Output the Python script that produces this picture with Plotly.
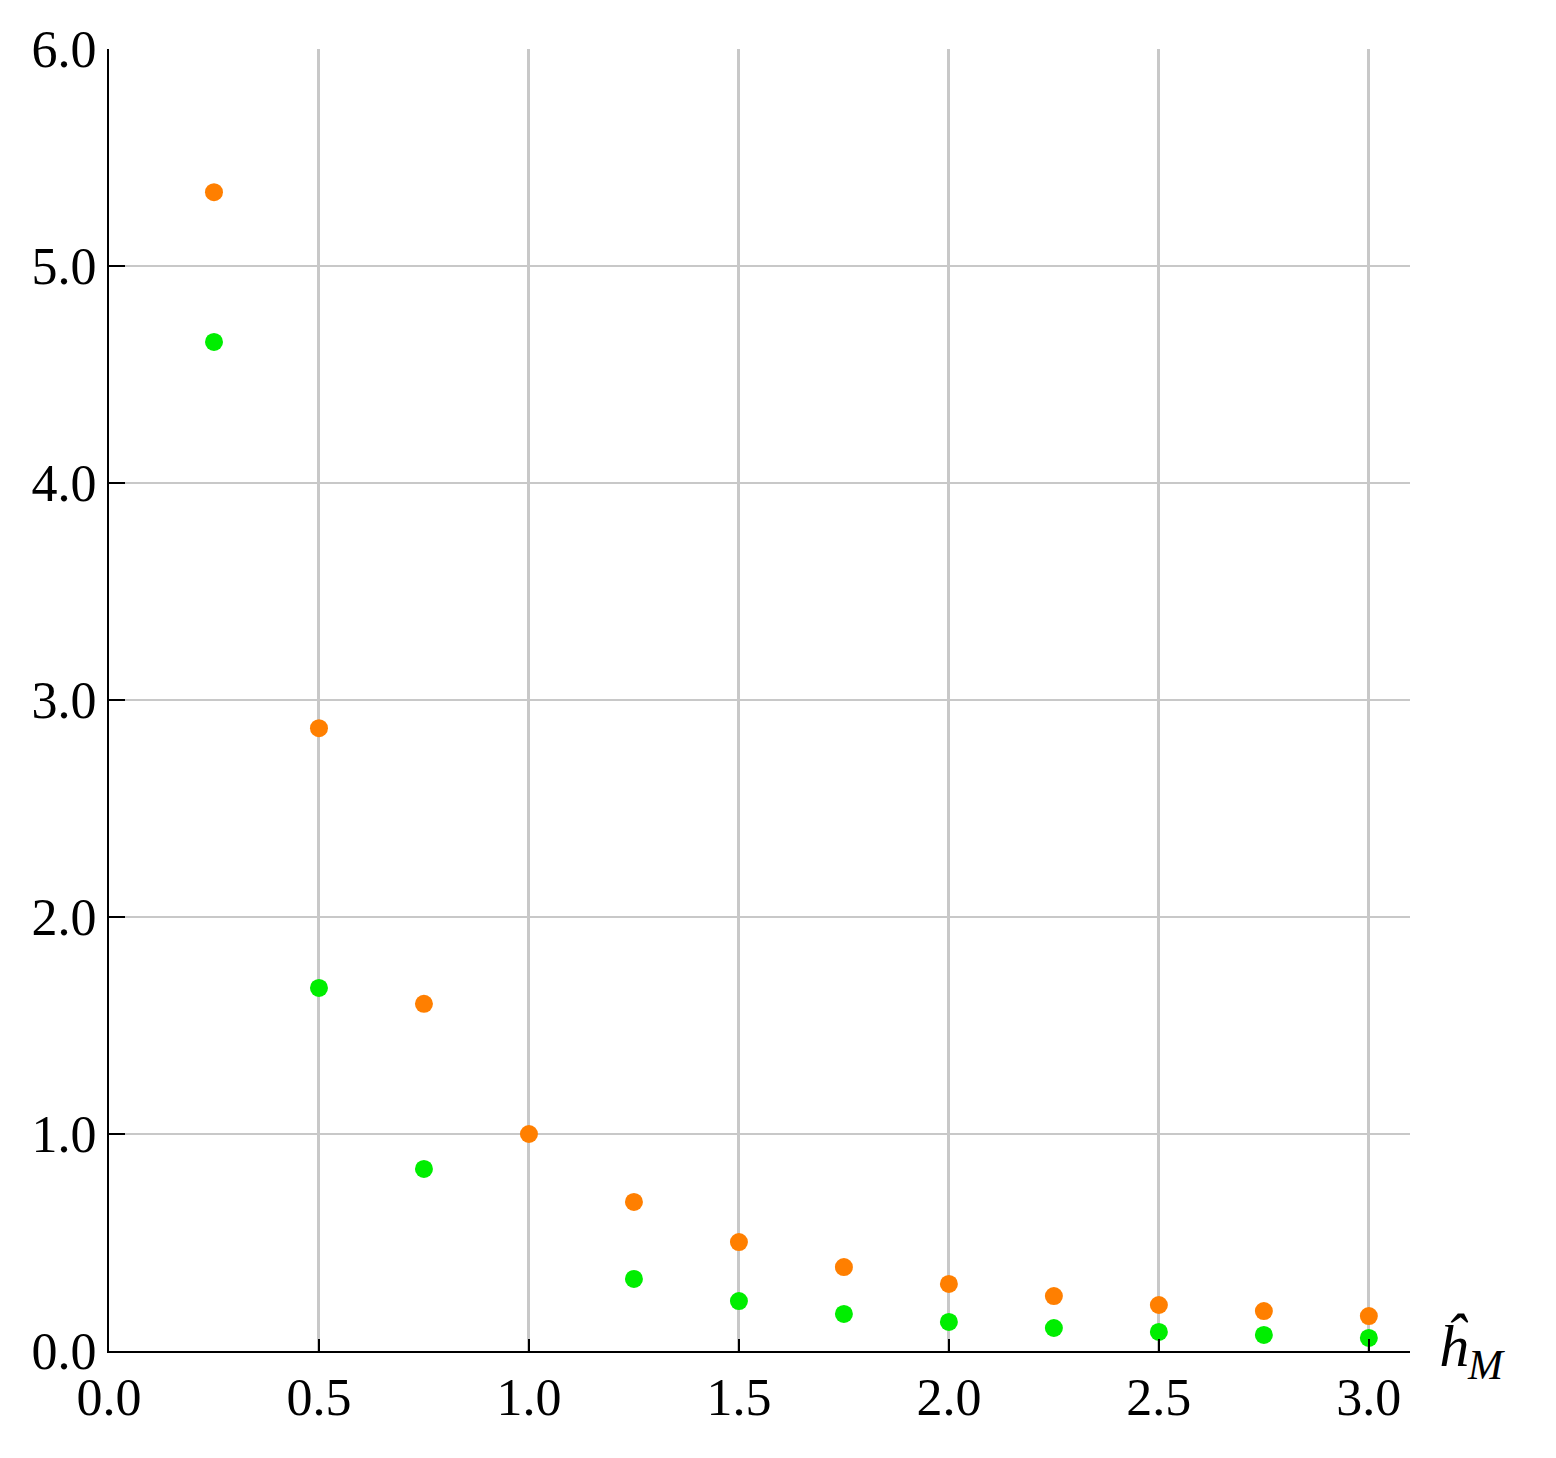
import plotly.graph_objects as go

x_orange = [0.25, 0.5, 0.75, 1.0, 1.25, 1.5, 1.75, 2.0, 2.25, 2.5, 2.75, 3.0]
y_orange = [5.34, 2.87, 1.60, 1.00, 0.687, 0.502, 0.387, 0.309, 0.253, 0.212, 0.184, 0.161]
x_green = [0.25, 0.5, 0.75, 1.25, 1.5, 1.75, 2.0, 2.25, 2.5, 2.75, 3.0]
y_green = [4.65, 1.673, 0.839, 0.332, 0.230, 0.171, 0.134, 0.106, 0.088, 0.074, 0.060]
x_ticks = [0.0, 0.5, 1.0, 1.5, 2.0, 2.5, 3.0]
y_ticks = [0.0, 1.0, 2.0, 3.0, 4.0, 5.0, 6.0]

fig = go.Figure()
fig.add_trace(go.Scatter(x=x_green, y=y_green, mode="markers",
                         marker=dict(color="#00ee00", size=18), showlegend=False))
fig.add_trace(go.Scatter(x=x_orange, y=y_orange, mode="markers",
                         marker=dict(color="#ff7f00", size=18), showlegend=False))
font = dict(family="Liberation Serif, DejaVu Serif, serif", size=52, color="black")
fig.update_layout(
    width=1556, height=1458, margin=dict(l=101, r=154, t=41, b=115),
    plot_bgcolor="white", paper_bgcolor="white", font=font,
    xaxis=dict(range=[0, 3.098], tickvals=x_ticks, ticktext=[f"{v:.1f}" for v in x_ticks],
               showgrid=True, gridcolor="#c8c8c8", gridwidth=2.5, zeroline=False,
               showline=True, linecolor="black", linewidth=2, ticks="inside",
               ticklen=12, tickwidth=2, tickcolor="black"),
    yaxis=dict(range=[0, 6.0], tickvals=y_ticks, ticktext=[f"{v:.1f}" for v in y_ticks],
               showgrid=True, gridcolor="#c8c8c8", gridwidth=2, zeroline=False,
               showline=True, linecolor="black", linewidth=2, ticks="inside",
               ticklen=16, tickwidth=2, tickcolor="black"),
    annotations=[dict(x=1.02, y=0.0, xref="paper", yref="paper", xanchor="left", yanchor="top",
                      text="<i>ĥ<sub>M</sub></i>", showarrow=False,
                      font=dict(family="Liberation Serif, serif", size=60), yshift=40)],
)
fig.write_html("out.html")
